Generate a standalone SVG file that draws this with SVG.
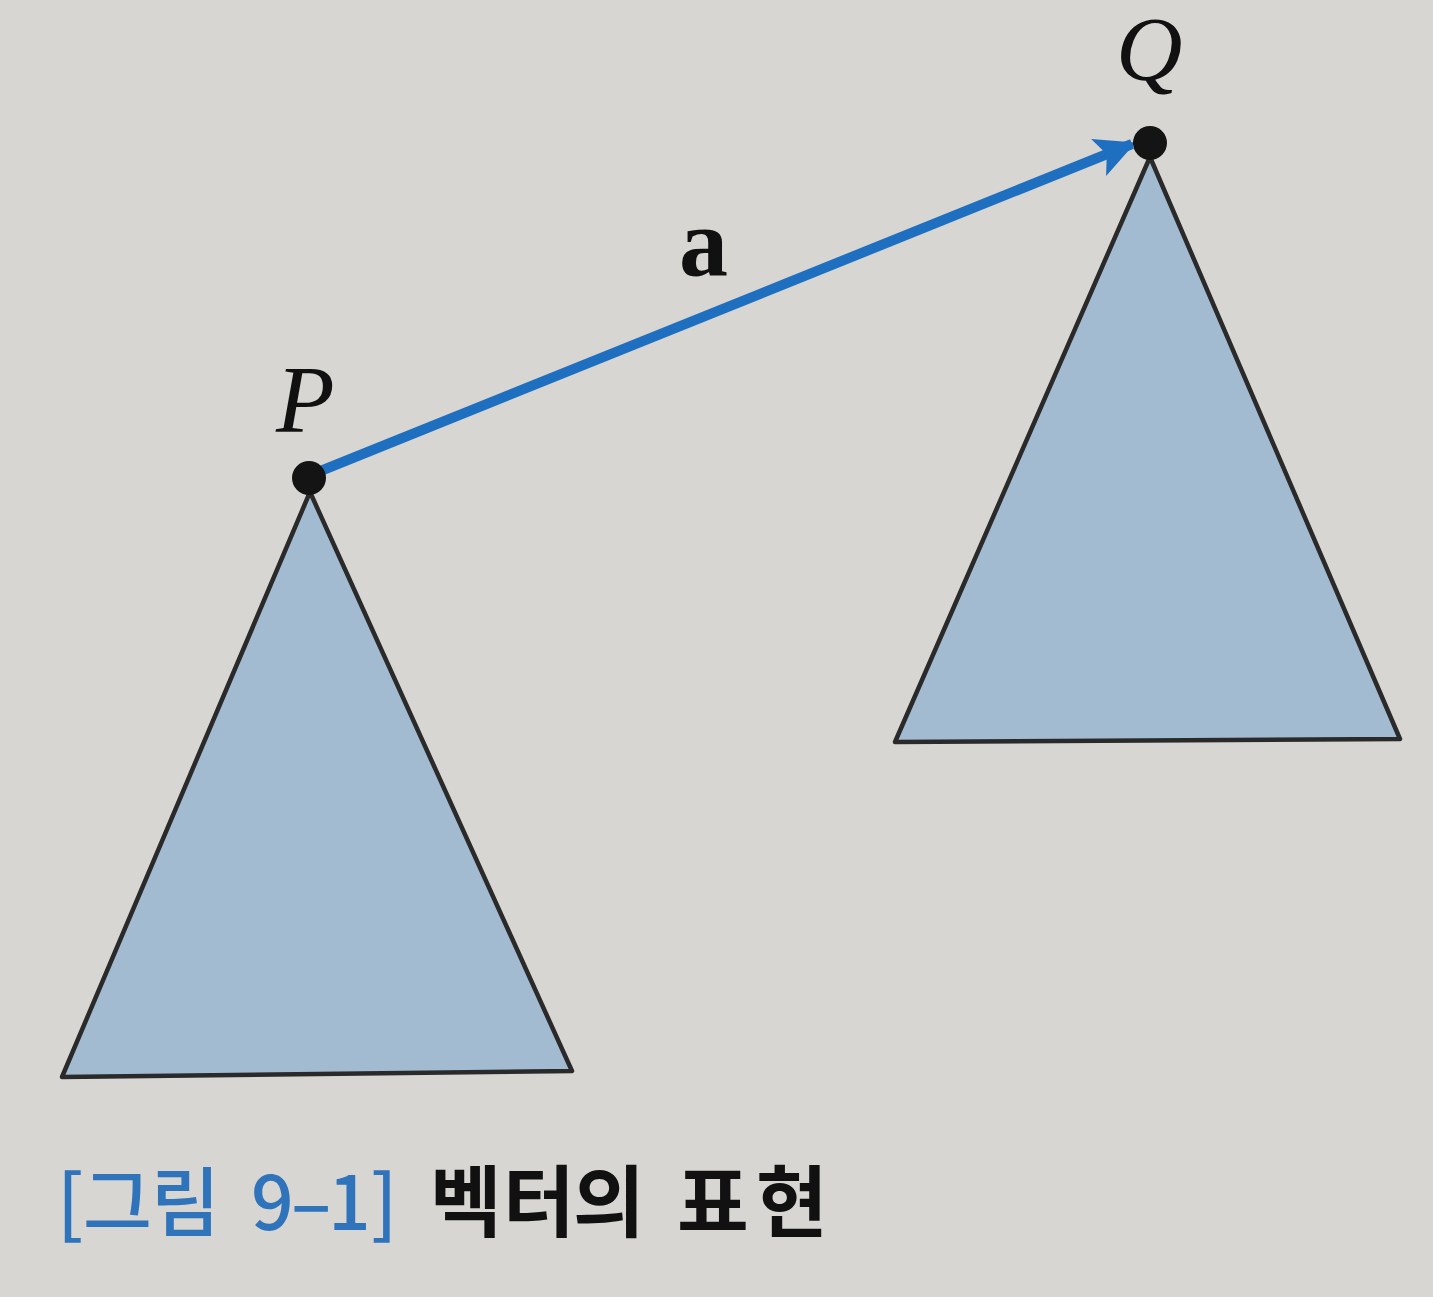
<svg xmlns="http://www.w3.org/2000/svg" width="1433" height="1297" viewBox="0 0 1433 1297">
<style>
.tri{fill:#a3bbd1;stroke:#2a2a2a;stroke-width:4.5;stroke-linejoin:round}
.dot{fill:#141414}
.lbl{font-family:"Liberation Serif","DejaVu Serif",serif;fill:#111}
.cap{font-family:"Noto Sans CJK KR","Noto Sans",sans-serif}
</style>
<defs>
<marker id="ah" viewBox="0 0 10 10" refX="9" refY="5" markerWidth="7" markerHeight="4" orient="auto" markerUnits="strokeWidth">
<path d="M0,0 L10,5 L0,10 L2.2,5 Z" fill="#1f6fc0"/>
</marker>
</defs>
<rect width="1433" height="1297" fill="#d7d6d2"/>
<g id="triangle-P"><polygon class="tri" points="310,492 572,1071 62,1077"/></g>
<g id="triangle-Q"><polygon class="tri" points="1150,157 1400,739 895,742"/></g>
<g id="connectors">
<line x1="318" y1="472" x2="1132" y2="144" stroke="#1f6fc0" stroke-width="10" marker-end="url(#ah)"/>
</g>
<g id="node-P"><circle class="dot" cx="309" cy="478" r="17"/><text class="lbl" x="276" y="432" font-size="96" font-style="italic">P</text></g>
<g id="node-Q"><circle class="dot" cx="1150" cy="143" r="17"/><text class="lbl" x="1116" y="80" font-size="92" font-style="italic">Q</text></g>
<g id="label-a"><text class="lbl" x="679" y="275" font-size="98" font-weight="bold">a</text></g>
<g id="caption">
<text class="cap" y="1230" font-size="75" fill="#2f74bb" font-weight="500"><tspan x="57">[</tspan><tspan x="83">그</tspan><tspan x="151">림 </tspan><tspan x="251">9</tspan><tspan x="291">–</tspan><tspan x="328">1]</tspan></text>
<text class="cap" y="1231" font-size="78" fill="#111" font-weight="700"><tspan x="430">벡</tspan><tspan x="503">터</tspan><tspan x="573">의 </tspan><tspan x="677">표</tspan><tspan x="756">현</tspan></text>
</g>
</svg>
